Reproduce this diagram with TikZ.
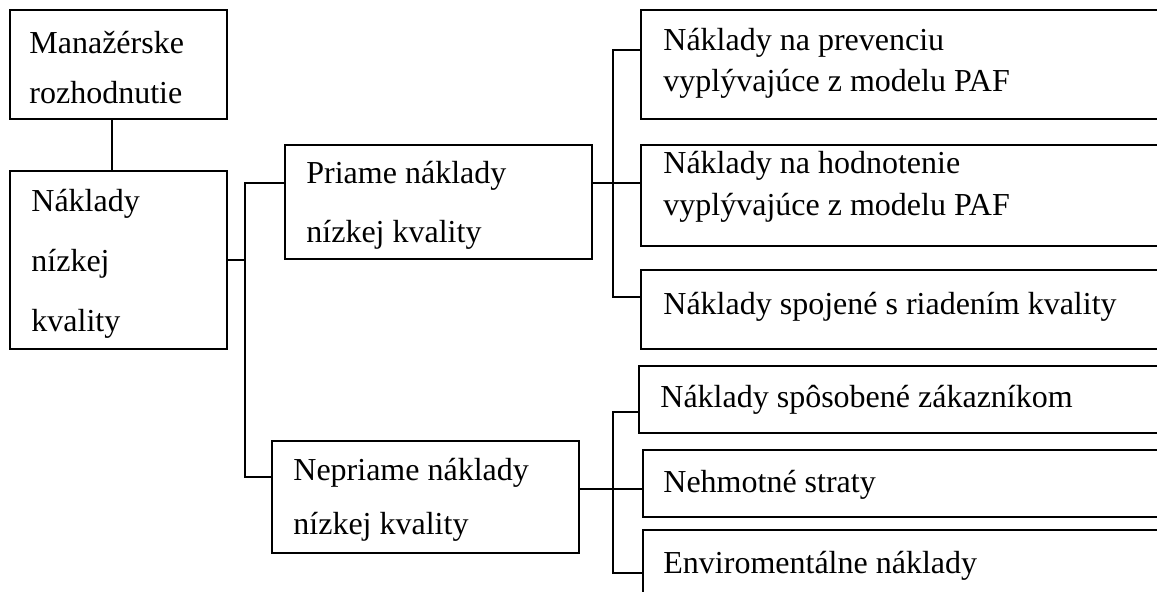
\documentclass[tikz,border=0pt]{standalone}
\usepackage{fontspec}
\setmainfont{Liberation Serif}
% strut that fixes the height of a first text line
\newcommand{\hstr}{\rule{0pt}{12pt}}
\begin{document}
\begin{tikzpicture}[x=0.5pt,y=-0.5pt,
  box/.style={draw, line width=0.9pt, outer sep=0pt, inner sep=0pt, anchor=north west},
  txt/.style={anchor=north west, inner sep=0pt, align=left, font=\fontsize{16}{#1}\selectfont},
  link/.style={line width=0.9pt}]
\useasboundingbox (0,0) rectangle (1157,591);
\clip (0,0) rectangle (1157,591);

% left column
\node[box, minimum width=108.5pt, minimum height=54.5pt] (mr) at (10,10) {};
\node[box, minimum width=108.5pt, minimum height=89pt] (nk) at (10,171) {};
\node[txt=25pt] (tmr) at (29,29) {\hstr Manažérske\\rozhodnutie};
\node[txt=30pt] (tnk) at (31,187) {\hstr Náklady\\nízkej\\kvality};

% middle column
\node[box, minimum width=153.5pt, minimum height=57pt] (pn) at (285,145) {};
\node[box, minimum width=153.5pt, minimum height=56pt] (nn) at (272,441) {};
\node[txt=29.5pt] (tpn) at (306,159) {\hstr Priame náklady\\nízkej kvality};
\node[txt=27pt] (tnn) at (293,456) {\hstr Nepriame náklady\\nízkej kvality};

% right column
\node[box, minimum width=270pt, minimum height=54.5pt] (r1) at (641,10) {};
\node[box, minimum width=270pt, minimum height=50.5pt] (r2) at (641,145) {};
\node[box, minimum width=270pt, minimum height=39.5pt] (r3) at (641,270) {};
\node[box, minimum width=271pt, minimum height=33.5pt] (r4) at (639,366) {};
\node[box, minimum width=269pt, minimum height=33.5pt] (r5) at (643,450) {};
\node[box, minimum width=269pt, minimum height=45pt] (r6) at (643,530) {};

\node[txt=20.5pt] (tr1) at (663,26) {\hstr Náklady na prevenciu\\vyplývajúce z modelu PAF};
\node[txt=21pt] (tr2) at (663,149) {\hstr Náklady na hodnotenie\\vyplývajúce z modelu PAF};
\node[txt=20pt] (tr3) at (663,290) {\hstr Náklady spojené s riadením kvality};
\node[txt=20pt] (tr4) at (660,383) {\hstr Náklady spôsobené zákazníkom};
\node[txt=20pt] (tr5) at (663,468) {\hstr Nehmotné straty};
\node[txt=20pt] (tr6) at (663,549) {\hstr Enviromentálne náklady};

% connectors
\draw[link] (mr.south -| 112,0) -- (nk.north -| 112,0);

\draw[link] (nk.east) -- (245,260);
\draw[link] (pn.west |- 0,183) -- (245,183) -- (245,477) -- (nn.west |- 0,477);

\draw[link] (pn.east |- 0,183) -- (r2.west |- 0,183);
\draw[link] (r1.west |- 0,50) -- (613,50) -- (613,297) -- (r3.west |- 0,297);

\draw[link] (nn.east |- 0,489) -- (r5.west |- 0,489);
\draw[link] (r4.west |- 0,412) -- (613,412) -- (613,573) -- (r6.west |- 0,573);
\end{tikzpicture}
\end{document}
